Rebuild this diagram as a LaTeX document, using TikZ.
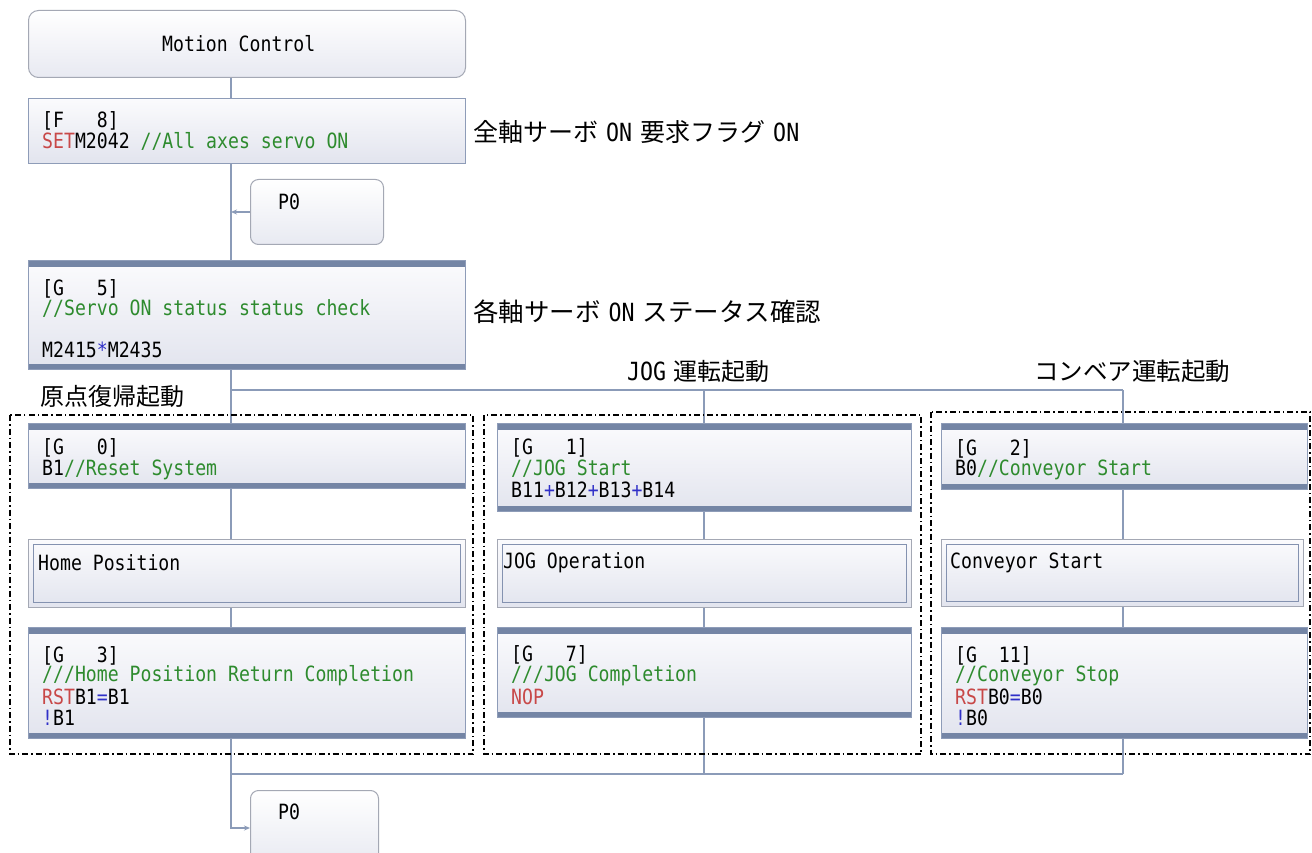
\documentclass[tikz,border=0pt]{standalone}
\usepackage{fontspec}
\newfontfamily\mono[FakeStretch=0.865]{DejaVu Sans Mono}
\newfontfamily\jp{Noto Sans CJK JP}
\usetikzlibrary{arrows.meta}
\definecolor{bar}{HTML}{7485A5}
\definecolor{bord}{HTML}{8E9CB8}
\definecolor{inbord}{HTML}{8492B0}
\definecolor{boxtop}{HTML}{FBFBFD}
\definecolor{boxbot}{HTML}{E2E4EE}
\definecolor{rbord}{HTML}{A4A8B4}
\definecolor{lncol}{HTML}{8B9BB8}
\definecolor{kred}{HTML}{C84848}
\definecolor{kgrn}{HTML}{2E8B2E}
\definecolor{kblu}{HTML}{3030C8}
\newcommand\lon[1]{\hspace{8pt}{\mono\fontsize{25}{25}\selectfont #1}\hspace{8pt}}
\begin{document}
\begin{tikzpicture}[x=1pt,y=-1pt,
  base/.style={draw=bord, line width=1pt, top color=boxtop, bottom color=boxbot,
    anchor=north west, inner sep=0pt},
  gbox/.style={base, path picture={
    \fill[bar] (path picture bounding box.north west) rectangle ([yshift=-6pt]path picture bounding box.north east);
    \fill[bar] (path picture bounding box.south west) rectangle ([yshift=6pt]path picture bounding box.south east);}},
  sbox/.style={base, draw=rbord, path picture={
    \draw[inbord, line width=1pt] ([shift={(5pt,-5pt)}]path picture bounding box.north west) rectangle ([shift={(-5pt,5pt)}]path picture bounding box.south east);}},
  rbox/.style={draw=rbord, line width=1pt, rounded corners=10pt, top color=white, bottom color=boxbot!80,
    anchor=north west, inner sep=0pt},
  txt/.style={anchor=west, inner sep=0pt, font=\mono\fontsize{21}{21}\selectfont},
  lbl/.style={anchor=west, inner sep=0pt, font=\jp\fontsize{24}{25}\selectfont},
  conn/.style={draw=lncol, line width=1.5pt},
  grp/.style={draw=black, line width=1.4pt, dash pattern=on 6pt off 3pt on 1.5pt off 3pt}
]
\clip (0,0) rectangle (1312,853);
\fill[white] (0,0) rectangle (1312,853);

% trunk x positions
\coordinate (tL) at (231,0);
\coordinate (tM) at (704,0);
\coordinate (tR) at (1123,0);
\coordinate (br) at (0,390);
\coordinate (jn) at (0,774);

% boxes
\node[rbox, minimum width=437pt, minimum height=67pt] (mc) at (28,10) {};
\node[base, minimum width=437pt, minimum height=65pt] (f8) at (28,98) {};
\node[rbox, rounded corners=8pt, minimum width=133pt, minimum height=65pt] (p0a) at (250,179) {};
\node[gbox, minimum width=437pt, minimum height=109pt] (g5) at (28,260) {};
\node[gbox, minimum width=437pt, minimum height=65pt] (g0) at (28,423) {};
\node[gbox, minimum width=414pt, minimum height=88pt] (g1) at (497,423) {};
\node[gbox, minimum width=366pt, minimum height=66pt] (g2) at (941,423) {};
\node[sbox, minimum width=437pt, minimum height=68pt] (hp) at (28,539) {};
\node[sbox, minimum width=414pt, minimum height=68pt] (jo) at (497,539) {};
\node[sbox, minimum width=362pt, minimum height=67pt] (cs) at (941,539) {};
\node[gbox, minimum width=437pt, minimum height=111pt] (g3) at (28,627) {};
\node[gbox, minimum width=414pt, minimum height=90pt] (g7) at (497,627) {};
\node[gbox, minimum width=366pt, minimum height=111pt] (g11) at (941,627) {};
\node[rbox, rounded corners=8pt, minimum width=128pt, minimum height=75pt] (p0b) at (250,790) {};

% connectors
\draw[conn] (tL |- mc.south) -- (tL |- f8.north);
\draw[conn] (tL |- f8.south) -- (tL |- g5.north);
\draw[conn, -{Stealth[length=6pt,width=5pt]}] (p0a.west) -- (tL |- p0a.west);
\draw[conn] (tL |- g5.south) -- (tL |- g0.north);
\draw[conn] (tL |- br) -- (tR |- br);
\draw[conn] (tM |- br) -- (tM |- g1.north);
\draw[conn] (tR |- br) -- (tR |- g2.north);
\draw[conn] (tL |- g0.south) -- (tL |- hp.north);
\draw[conn] (tL |- hp.south) -- (tL |- g3.north);
\draw[conn] (tM |- g1.south) -- (tM |- jo.north);
\draw[conn] (tM |- jo.south) -- (tM |- g7.north);
\draw[conn] (tR |- g2.south) -- (tR |- cs.north);
\draw[conn] (tR |- cs.south) -- (tR |- g11.north);
\draw[conn] (tL |- g3.south) -- (tL |- jn);
\draw[conn] (tM |- g7.south) -- (tM |- jn);
\draw[conn] (tR |- g11.south) -- (tR |- jn);
\draw[conn] (tR |- jn) -- (tL |- jn);
\draw[conn, -{Stealth[length=6pt,width=5pt]}] (tL |- jn) -- (tL |- p0b.west) -- (p0b.west);

% texts
\node[txt] (tmc) at (162,44) {Motion Control};
\node[txt] (tf8a) at (42,121) {[F\ \ \ 8]};
\node[txt] (tf8b) at (42,141) {{\color{kred}SET}M2042 {\color{kgrn}//All axes servo ON}};
\node[txt] (tp0a) at (278,202) {P0};
\node[txt] (tg5a) at (42,289) {[G\ \ \ 5]};
\node[txt] (tg5b) at (42,308) {\color{kgrn}//Servo ON status status check};
\node[txt] (tg5c) at (42,350) {M2415{\color{kblu}*}M2435};
\node[txt] (tg0a) at (42,448) {[G\ \ \ 0]};
\node[txt] (tg0b) at (42,470) {B1{\color{kgrn}//Reset System}};
\node[txt] (tg1a) at (511,448) {[G\ \ \ 1]};
\node[txt] (tg1b) at (511,469) {\color{kgrn}//JOG Start};
\node[txt] (tg1c) at (511,490) {B11{\color{kblu}+}B12{\color{kblu}+}B13{\color{kblu}+}B14};
\node[txt] (tg2a) at (955,449) {[G\ \ \ 2]};
\node[txt] (tg2b) at (955,470) {B0{\color{kgrn}//Conveyor Start}};
\node[txt] (thp) at (38,563) {Home Position};
\node[txt] (tjo) at (503,563) {JOG Operation};
\node[txt] (tcs) at (950,563) {Conveyor Start};
\node[txt] (tg3a) at (42,656) {[G\ \ \ 3]};
\node[txt] (tg3b) at (42,676) {\color{kgrn}///Home Position Return Completion};
\node[txt] (tg3c) at (42,697) {{\color{kred}RST}B1{\color{kblu}=}B1};
\node[txt] (tg3d) at (42,718) {{\color{kblu}!}B1};
\node[txt] (tg7a) at (511,655) {[G\ \ \ 7]};
\node[txt] (tg7b) at (511,676) {\color{kgrn}///JOG Completion};
\node[txt] (tg7c) at (511,697) {\color{kred}NOP};
\node[txt] (tg11a) at (955,656) {[G\ \ 11]};
\node[txt] (tg11b) at (955,676) {\color{kgrn}//Conveyor Stop};
\node[txt] (tg11c) at (955,697) {{\color{kred}RST}B0{\color{kblu}=}B0};
\node[txt] (tg11d) at (955,718) {{\color{kblu}!}B0};
\node[txt] (tp0b) at (278,812) {P0};

% labels
\node[lbl, font=\jp\fontsize{25}{26}\selectfont] (l1) at (473,132) {全軸サーボ\lon{ON}要求フラグ\lon{ON}};
\node[lbl, font=\jp\fontsize{25.5}{26}\selectfont] (l2) at (473,312) {各軸サーボ\lon{ON}ステータス確認};
\node[lbl] (l3) at (40,396) {原点復帰起動};
\node[lbl] (l4) at (627,371) {{\mono\fontsize{25}{25}\selectfont JOG}\hspace{7pt}運転起動};
\node[lbl, font=\jp\fontsize{24.5}{25}\selectfont] (l5) at (1034,371) {コンベア運転起動};

% group frames
\draw[grp] (10,415) rectangle (473,754);
\draw[grp] (484,415) rectangle (921,754);
\draw[grp] (931,412) rectangle (1310,754);
\end{tikzpicture}
\end{document}
